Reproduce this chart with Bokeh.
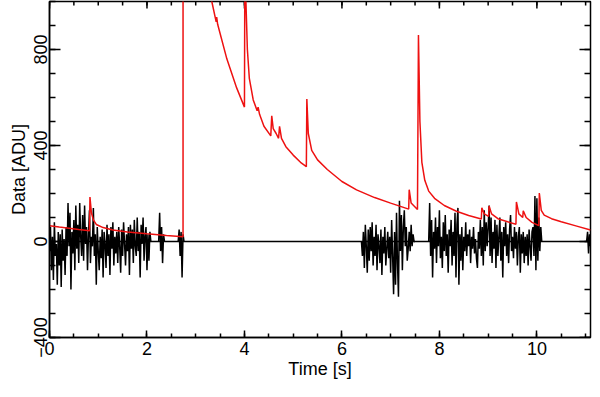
import numpy as np
from bokeh.plotting import figure
from bokeh.models import Range1d, FixedTicker, Span
from bokeh.embed import file_html
from bokeh.resources import INLINE

# ---------------- data ----------------
dt = 0.02  # sampling step of the black data [s]

seg1_start = 0.00
seg1_vals = [
    -40, 60, -120, 20, -160, 80, -60, -10, -180, 40,
    -100, 30, -190, 50, -80, 10, -140, 60, -60, 160,
    -20, 120, -200, 40, -50, 90, -120, 150, -30, 70,
    -90, 160, 20, -60, 110, -80, 150, -10, 60, -120,
    30, 130, -90, 20, -20, 140, -60, 30, -180, 60,
    -40, -120, 20, -70, 50, -150, 40, -10, -110, 70,
    -60, 30, -140, 60, -30, 80, -100, 20, -50, 40,
    -90, 60, -20, -130, 50, -60, 80, -10, -100, 30,
    -40, 60, -140, 70, -30, 50, -90, 90, -20, -60,
    100, -40, 40, -150, 70, -10, 100, -80, 20, 60,
    -120, 30, -80, 40, 0,
]
seg2_start = 2.24
seg2_vals = [0, 120, -40, 60, -90, 30, 0]
seg3_start = 2.64
seg3_vals = [0, 50, -60, 40, -150, 30, 0]
seg4_start = 6.40
seg4_vals = [
    0, -60, 40, -110, 70, -20, -130, 50, -80, 60,
    -40, 80, -100, 20, -60, 70, -120, 30, -20, -90,
    50, -140, 20, -50, 60, -100, -30, 40, -70, 20,
    -130, 90, -60, -220, 40, -180, 120, -90, -230, 170,
    -40, 110, -120, 60, 130, -20, 60, -80, -30, 40,
    -40, 70, -20, 30, 0, 0,
]
seg5_start = 7.78
seg5_vals = [
    0, 160, -60, 90, -150, 40, -30, 100, -90, 60,
    -20, 130, -70, 20, -110, 80, -40, 110, -60, 30,
    -130, 50, -20, 90, -100, 40, -60, 120, -150, 70,
    140, -180, 30, -80, 60, -120, 20, -40, 80, -60,
    30, -20, 50, -90, 20, -30, 60, -50, 10, -70,
    -110, 40, -30, 90, -60, 60, -100, 130, -40, 80,
    -20, 60, 150, -60, 100, -90, 40, -30, 90, -110,
    70, -60, 20, 100, -80, 40, -150, 60, -20, 80,
    -60, 30, -90, 50, 110, -40, 20, -70, 60, -30,
    40, -100, 20, 60, -130, 30, -50, 40, -90, 20,
    -60, 30, -100, 50, -20, -80, 40, 60, -60, 190,
    -120, 180, -80, 100, -40, 60, 0,
]
seg6_start = 11.02
seg6_vals = [0, 40, -50, 30, -20]

red_t = [0.00, 0.20, 0.40, 0.60, 0.82, 0.83, 0.86, 0.90, 0.96, 1.10, 1.30, 1.60,
         2.00, 2.40, 2.74, 2.74, 3.00, 3.20, 3.33, 3.42, 3.43, 3.45, 3.64, 3.84,
         4.00, 4.01, 4.03, 4.06, 4.10, 4.18, 4.26, 4.28, 4.31, 4.40, 4.54, 4.56,
         4.59, 4.65, 4.70, 4.72, 4.76, 4.85, 5.00, 5.15, 5.27, 5.28, 5.31, 5.38,
         5.50, 5.70, 6.00, 6.30, 6.67, 7.00, 7.37, 7.38, 7.42, 7.55, 7.57, 7.60,
         7.64, 7.70, 7.78, 7.90, 8.10, 8.35, 8.60, 8.86, 8.87, 8.92, 9.01, 9.02,
         9.07, 9.20, 9.40, 9.57, 9.58, 9.63, 9.71, 9.72, 9.78, 9.90, 10.04, 10.05,
         10.09, 10.15, 10.30, 10.50, 10.80, 11.10]
red_y = [66, 60, 55, 50, 45, 185, 120, 90, 71, 58, 48, 40,
         32, 25, 20, 3000, 1400, 1100, 1000, 915, 935, 905, 760, 640,
         560, 1300, 1000, 800, 680, 590, 545, 560, 530, 480, 440, 524,
         470, 450, 430, 480, 430, 395, 360, 330, 312, 594, 450, 380,
         340, 300, 250, 215, 183, 160, 135, 216, 160, 133, 860, 500,
         330, 255, 210, 180, 150, 126, 108, 94, 140, 115, 105, 148,
         115, 95, 82, 72, 165, 115, 100, 128, 100, 80, 66, 202,
         130, 110, 95, 82, 65, 48]

x_major = [0, 2, 4, 6, 8, 10]
x_minor = [i * 0.5 for i in range(23)]
y_major = [-400, 0, 400, 800]
y_minor = list(range(-400, 1001, 100))

FONT = "Liberation Sans"
FS = "18px"

# ---------------- figure ----------------
p = figure(width=592, height=381, output_backend="svg", toolbar_location=None,
           x_range=Range1d(0, 11.1), y_range=Range1d(-400, 1000),
           min_border_left=49, min_border_right=2, min_border_top=1, min_border_bottom=0)
p.grid.visible = False
p.outline_line_color = "black"
p.outline_line_width = 1.5
p.background_fill_color = "white"
p.border_fill_color = "white"

def style_axis(ax, horizontal):
    ax.ticker = FixedTicker(ticks=x_major if horizontal else y_major,
                            minor_ticks=x_minor if horizontal else y_minor)
    ax.axis_line_color = "black"
    ax.axis_line_width = 1.5
    ax.major_tick_line_color = "black"
    ax.minor_tick_line_color = "black"
    ax.major_tick_line_width = 1.5
    ax.minor_tick_line_width = 1.5
    ax.major_tick_out = 0
    ax.minor_tick_out = 0
    ax.major_tick_in = 7 if horizontal else 11
    ax.minor_tick_in = 4 if horizontal else 6
    ax.major_label_text_font = FONT
    ax.major_label_text_font_size = FS
    ax.major_label_text_color = "black"
    ax.axis_label_text_font = FONT
    ax.axis_label_text_font_size = FS
    ax.axis_label_text_font_style = "normal"
    ax.axis_label_text_color = "black"

xb = p.xaxis[0]
yl = p.yaxis[0]
style_axis(xb, True)
style_axis(yl, False)
xb.axis_label = "Time [s]"
yl.axis_label = "Data [ADU]"
yl.major_label_orientation = "vertical"
xb.major_label_standoff = 4
xb.axis_label_standoff = 1
yl.major_label_standoff = 3
yl.axis_label_standoff = 2

# mirrored inward ticks on the top and right edges of the frame
xt, xe = p.x_range.end, p.y_range.end
p.ray(x=x_major, y=[xe] * len(x_major), length=7, length_units="screen",
      angle=-np.pi / 2, line_color="black", line_width=1.5)
p.ray(x=x_minor, y=[xe] * len(x_minor), length=4, length_units="screen",
      angle=-np.pi / 2, line_color="black", line_width=1.5)
p.ray(x=[xt] * len(y_major), y=y_major, length=11, length_units="screen",
      angle=np.pi, line_color="black", line_width=1.5)
p.ray(x=[xt] * len(y_minor), y=y_minor, length=6, length_units="screen",
      angle=np.pi, line_color="black", line_width=1.5)

# zero line
p.add_layout(Span(location=0, dimension="width", line_color="black", line_width=1.5))

# black data segments
for start, vals in [(seg1_start, seg1_vals), (seg2_start, seg2_vals), (seg3_start, seg3_vals),
                    (seg4_start, seg4_vals), (seg5_start, seg5_vals), (seg6_start, seg6_vals)]:
    t = [start + i * dt for i in range(len(vals))]
    p.line(t, vals, line_color="black", line_width=1.5)

# red curve
p.line(red_t, red_y, line_color="#ee1111", line_width=1.5)

open("out.html", "w").write(file_html(p, INLINE))
